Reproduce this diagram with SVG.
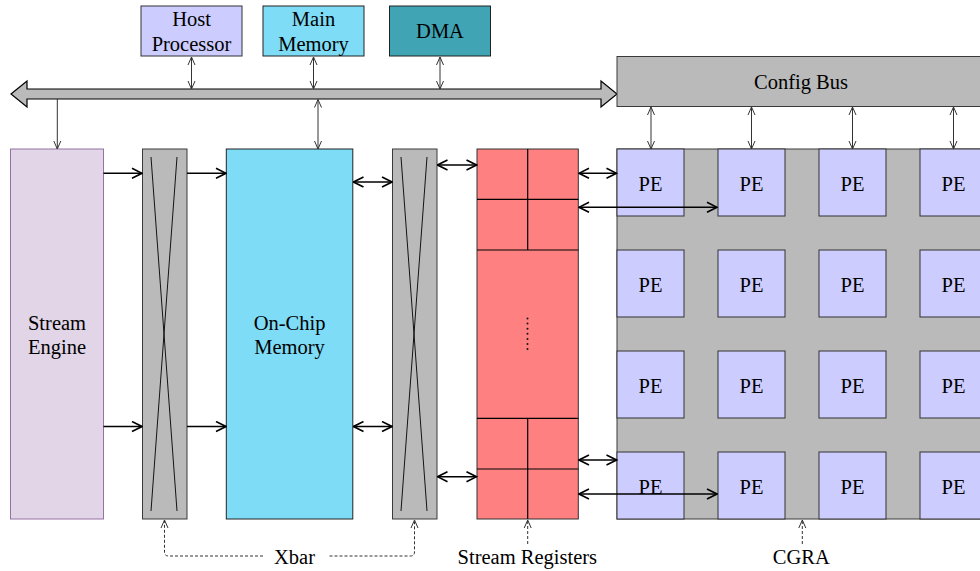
<svg xmlns="http://www.w3.org/2000/svg" width="980" height="571" viewBox="0 0 980 571">
  <style>
    text { font-family: "Liberation Serif", "Times New Roman", serif; font-size: 20.5px; fill: #000; text-anchor: middle; }
    .edge { stroke: #333; stroke-width: 1; }
    .gray { fill: #bababa; stroke: #3a3a3a; stroke-width: 1; }
    .pe { fill: #ccccff; stroke: #333; stroke-width: 1; }
    .cyan { fill: #7fdcf7; stroke: #222; stroke-width: 1; }
    .sreg { fill: #ff8080; stroke: #333; stroke-width: 1; }
    .div { stroke: #000; stroke-width: 1.2; }
    .thick { stroke: #000; stroke-width: 1.6; fill: none; }
    .thin { stroke: #333; stroke-width: 1; fill: none; }
    .dash { stroke: #333; stroke-width: 1; fill: none; stroke-dasharray: 3 2; }
  </style>
  <defs>
    <marker id="ah" markerUnits="userSpaceOnUse" viewBox="-11 -6 12 12" refX="0" refY="0" markerWidth="12" markerHeight="12" orient="auto-start-reverse">
      <path d="M-10,-5 L0,0 L-10,5" fill="none" stroke="#000" stroke-width="1.6"/>
    </marker>
    <marker id="av" markerUnits="userSpaceOnUse" viewBox="-9 -5 10 10" refX="0" refY="0" markerWidth="10" markerHeight="10" orient="auto-start-reverse">
      <path d="M-8,-3.5 L0,0 L-8,3.5" fill="none" stroke="#333" stroke-width="1" stroke-dasharray="none"/>
    </marker>
  </defs>

  <!-- system bus -->
  <g id="system-bus">
    <polygon points="11,94 27,81 27,89 601,89 601,81 617,94 601,107 601,99 27,99 27,107" fill="#bababa" stroke="#000" stroke-width="1.2"/>
  </g>

  <g id="host-processor">
    <rect x="141" y="6" width="101" height="50" fill="#ccccff" stroke="#333"/>
    <text x="191.5" y="26">Host</text>
    <text x="191.5" y="50.5">Processor</text>
  </g>
  <g id="main-memory">
    <rect x="263" y="6" width="101" height="50" class="cyan"/>
    <text x="313.5" y="26">Main</text>
    <text x="313.5" y="50.5">Memory</text>
  </g>
  <g id="dma">
    <rect x="389.5" y="6" width="101" height="50" fill="#40a4b4" stroke="#222"/>
    <text x="440" y="38">DMA</text>
  </g>

  <g id="config-bus">
    <rect x="617" y="56.5" width="370" height="50" class="gray"/>
    <text x="801" y="89.3">Config Bus</text>
  </g>

  <g id="stream-engine">
    <rect x="10.5" y="149" width="93" height="370" fill="#e1d5e7" stroke="#9673a6"/>
    <text x="57" y="329.5">Stream</text>
    <text x="57" y="353.5">Engine</text>
  </g>

  <g id="xbar-in">
    <rect x="142.5" y="149" width="44.5" height="370" class="gray"/>
    <line x1="151" y1="157" x2="177" y2="511" stroke="#000" stroke-width="0.9"/>
    <line x1="177" y1="157" x2="151" y2="511" stroke="#000" stroke-width="0.9"/>
  </g>

  <g id="on-chip-memory">
    <rect x="226.3" y="149" width="126.5" height="370" class="cyan"/>
    <text x="289.5" y="329.5">On-Chip</text>
    <text x="289.5" y="353.5">Memory</text>
  </g>

  <g id="xbar-out">
    <rect x="392.5" y="149" width="44.5" height="370" class="gray"/>
    <line x1="401" y1="157" x2="427" y2="511" stroke="#000" stroke-width="0.9"/>
    <line x1="427" y1="157" x2="401" y2="511" stroke="#000" stroke-width="0.9"/>
  </g>

  <g id="stream-registers">
    <rect x="477" y="149" width="101.3" height="370" class="sreg"/>
    <line x1="477" y1="199.3" x2="578.3" y2="199.3" class="div"/>
    <line x1="477" y1="250" x2="578.3" y2="250" class="div"/>
    <line x1="527.7" y1="149" x2="527.7" y2="250" class="div"/>
    <line x1="477" y1="418.3" x2="578.3" y2="418.3" class="div"/>
    <line x1="477" y1="469" x2="578.3" y2="469" class="div"/>
    <line x1="527.7" y1="418.3" x2="527.7" y2="519" class="div"/>
    <g fill="#111">
      <circle cx="527.5" cy="318.5" r="1"/>
      <circle cx="527.5" cy="323.6" r="1"/>
      <circle cx="527.5" cy="328.7" r="1"/>
      <circle cx="527.5" cy="333.8" r="1"/>
      <circle cx="527.5" cy="338.9" r="1"/>
      <circle cx="527.5" cy="344" r="1"/>
      <circle cx="527.5" cy="349.1" r="1"/>
    </g>
  </g>

  <g id="cgra">
    <rect x="617" y="149" width="370" height="370" class="gray"/>
  </g>
  <g id="pe-0-0"><rect x="617" y="149" width="67" height="67" class="pe"/><text x="650.5" y="190.5">PE</text></g>
  <g id="pe-0-1"><rect x="718" y="149" width="67" height="67" class="pe"/><text x="751.5" y="190.5">PE</text></g>
  <g id="pe-0-2"><rect x="819" y="149" width="67" height="67" class="pe"/><text x="852.5" y="190.5">PE</text></g>
  <g id="pe-0-3"><rect x="920" y="149" width="67" height="67" class="pe"/><text x="953.5" y="190.5">PE</text></g>
  <g id="pe-1-0"><rect x="617" y="250" width="67" height="67" class="pe"/><text x="650.5" y="291.5">PE</text></g>
  <g id="pe-1-1"><rect x="718" y="250" width="67" height="67" class="pe"/><text x="751.5" y="291.5">PE</text></g>
  <g id="pe-1-2"><rect x="819" y="250" width="67" height="67" class="pe"/><text x="852.5" y="291.5">PE</text></g>
  <g id="pe-1-3"><rect x="920" y="250" width="67" height="67" class="pe"/><text x="953.5" y="291.5">PE</text></g>
  <g id="pe-2-0"><rect x="617" y="351" width="67" height="67" class="pe"/><text x="650.5" y="392.5">PE</text></g>
  <g id="pe-2-1"><rect x="718" y="351" width="67" height="67" class="pe"/><text x="751.5" y="392.5">PE</text></g>
  <g id="pe-2-2"><rect x="819" y="351" width="67" height="67" class="pe"/><text x="852.5" y="392.5">PE</text></g>
  <g id="pe-2-3"><rect x="920" y="351" width="67" height="67" class="pe"/><text x="953.5" y="392.5">PE</text></g>
  <g id="pe-3-0"><rect x="617" y="452" width="67" height="67" class="pe"/><text x="650.5" y="493.5">PE</text></g>
  <g id="pe-3-1"><rect x="718" y="452" width="67" height="67" class="pe"/><text x="751.5" y="493.5">PE</text></g>
  <g id="pe-3-2"><rect x="819" y="452" width="67" height="67" class="pe"/><text x="852.5" y="493.5">PE</text></g>
  <g id="pe-3-3"><rect x="920" y="452" width="67" height="67" class="pe"/><text x="953.5" y="493.5">PE</text></g>

  <!-- labels under the blocks -->
  <g id="labels">
    <text x="294.5" y="564.3">Xbar</text>
    <text x="527.3" y="564.3">Stream Registers</text>
    <text x="801.3" y="564.3">CGRA</text>
  </g>

  <g id="connectors">
    <!-- bus taps -->
    <line x1="191.5" y1="57" x2="191.5" y2="89" class="thin" marker-start="url(#av)" marker-end="url(#av)"/>
    <line x1="313.5" y1="57" x2="313.5" y2="89" class="thin" marker-start="url(#av)" marker-end="url(#av)"/>
    <line x1="440" y1="57" x2="440" y2="89" class="thin" marker-start="url(#av)" marker-end="url(#av)"/>
    <line x1="57.3" y1="99" x2="57.3" y2="149" class="thin" marker-end="url(#av)"/>
    <line x1="318" y1="99.5" x2="318" y2="149" class="thin" marker-start="url(#av)" marker-end="url(#av)"/>
    <!-- config bus to PE row -->
    <line x1="651" y1="107" x2="651" y2="149" class="thin" marker-start="url(#av)" marker-end="url(#av)"/>
    <line x1="751.5" y1="107" x2="751.5" y2="149" class="thin" marker-start="url(#av)" marker-end="url(#av)"/>
    <line x1="852.5" y1="107" x2="852.5" y2="149" class="thin" marker-start="url(#av)" marker-end="url(#av)"/>
    <line x1="953.5" y1="107" x2="953.5" y2="149" class="thin" marker-start="url(#av)" marker-end="url(#av)"/>
    <!-- data path -->
    <line x1="103.5" y1="173.3" x2="142" y2="173.3" class="thick" marker-end="url(#ah)"/>
    <line x1="187" y1="173.3" x2="226" y2="173.3" class="thick" marker-end="url(#ah)"/>
    <line x1="103.5" y1="426.5" x2="142" y2="426.5" class="thick" marker-end="url(#ah)"/>
    <line x1="187" y1="426.5" x2="226" y2="426.5" class="thick" marker-end="url(#ah)"/>
    <line x1="353.5" y1="182" x2="392" y2="182" class="thick" marker-start="url(#ah)" marker-end="url(#ah)"/>
    <line x1="353.5" y1="426.5" x2="392" y2="426.5" class="thick" marker-start="url(#ah)" marker-end="url(#ah)"/>
    <line x1="437.5" y1="165" x2="476.5" y2="165" class="thick" marker-start="url(#ah)" marker-end="url(#ah)"/>
    <line x1="437.5" y1="476.7" x2="476.5" y2="476.7" class="thick" marker-start="url(#ah)" marker-end="url(#ah)"/>
    <line x1="579" y1="173.3" x2="616.5" y2="173.3" class="thick" marker-start="url(#ah)" marker-end="url(#ah)"/>
    <line x1="579" y1="207.3" x2="717" y2="207.3" class="thick" marker-start="url(#ah)" marker-end="url(#ah)"/>
    <line x1="579" y1="460" x2="616.5" y2="460" class="thick" marker-start="url(#ah)" marker-end="url(#ah)"/>
    <line x1="579" y1="494" x2="717" y2="494" class="thick" marker-start="url(#ah)" marker-end="url(#ah)"/>
    <!-- label pointers -->
    <path d="M263,556 H168.5 Q164.5,556 164.5,552 V520" class="dash" marker-end="url(#av)"/>
    <path d="M329.5,556 H410.5 Q414.5,556 414.5,552 V520" class="dash" marker-end="url(#av)"/>
    <path d="M527.7,544 V520" class="dash" marker-end="url(#av)"/>
    <path d="M802.3,544 V520" class="dash" marker-end="url(#av)"/>
  </g>
</svg>
